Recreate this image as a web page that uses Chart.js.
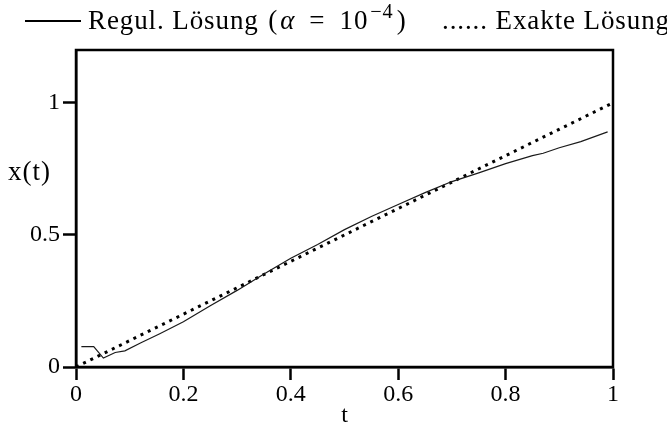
<!DOCTYPE html>
<html>
<head>
<meta charset="utf-8">
<script src="https://cdn.jsdelivr.net/npm/chart.js@4/dist/chart.umd.min.js"></script>
<style>
  html, body { margin: 0; padding: 0; background: #fff; }
  #wrap { position: relative; width: 667px; height: 432px; font-family: "Liberation Serif", serif; color: #000; }
  canvas { position: absolute; left: 0; top: 0; }
  .lbl { position: absolute; white-space: nowrap; line-height: 1; }
  .leg { font-size: 27px; letter-spacing: 0.9px; top: 7px; }
  .legline { display: inline-block; width: 56px; border-top: 2px solid #000; vertical-align: middle; margin-right: 7px; position: relative; top: -2px; }
  .op { padding: 0 14px; }
  .paren { padding: 0 2px; }
  sup { font-size: 0.75em; vertical-align: 0.55em; line-height: 0; margin-left: 2px; margin-right: 3px; }
</style>
</head>
<body>
<div id="wrap">
  <canvas id="chart" width="667" height="432"></canvas>
  <div class="lbl leg" style="left:25px;">
    <span class="legline"></span>Regul. Lösung <span class="paren">(</span><i>α</i><span class="op">=</span>10<sup>−4</sup>)
  </div>
  <div class="lbl leg" style="left:442px;">...... Exakte Lösung</div>
  <div class="lbl" style="left:8px; top:158px; font-size:27px; letter-spacing:1px;">x(t)</div>
</div>
<script>
// regularised solution
const tReg = [0.01, 0.033, 0.051, 0.073, 0.091, 0.12, 0.156, 0.2, 0.25, 0.30, 0.35, 0.40, 0.45, 0.50, 0.55, 0.60, 0.65, 0.70, 0.75, 0.80, 0.85, 0.87, 0.90, 0.94, 0.99];
const xReg = [0.077, 0.077, 0.034, 0.055, 0.061, 0.091, 0.126, 0.171, 0.232, 0.290, 0.352, 0.412, 0.464, 0.520, 0.570, 0.615, 0.660, 0.702, 0.735, 0.770, 0.800, 0.809, 0.830, 0.853, 0.890];

// exact solution x(t) = t
const tExact = [0, 1];
const xExact = [0, 1];

const xTicks = [0, 0.2, 0.4, 0.6, 0.8, 1];
const yTicks = [0, 0.5, 1];

const serif = "'Liberation Serif', serif";

// draws the closed frame round the plot
const framePlugin = {
    id: 'frame',
    afterDraw(chart) {
        const a = chart.chartArea;
        const ctx = chart.ctx;
        ctx.save();
        ctx.strokeStyle = '#000';
        ctx.lineWidth = 2.5;
        ctx.strokeRect(a.left, a.top, a.right - a.left, a.bottom - a.top);
        ctx.restore();
    }
};

const ctx = document.getElementById('chart').getContext('2d');

new Chart(ctx, {
    type: 'line',
    data: {
        datasets: [
            {
                label: 'Regul. Lösung',
                data: tReg.map((t, i) => ({ x: t, y: xReg[i] })),
                borderColor: '#1a1a1a',
                borderWidth: 1.2,
                pointRadius: 0,
                tension: 0
            },
            {
                label: 'Exakte Lösung',
                data: tExact.map((t, i) => ({ x: t, y: xExact[i] })),
                borderColor: '#000',
                borderWidth: 3,
                borderDash: [3, 5],
                borderCapStyle: 'butt',
                pointRadius: 0
            }
        ]
    },
    options: {
        responsive: false,
        animation: false,
        layout: { padding: { top: 50, right: 54, left: 0, bottom: 0 } },
        plugins: {
            legend: { display: false },
            tooltip: { enabled: false }
        },
        scales: {
            x: {
                type: 'linear',
                min: 0,
                max: 1,
                afterBuildTicks: s => { s.ticks = xTicks.map(v => ({ value: v })); },
                afterFit: s => { s.height = 65; },
                grid: { drawOnChartArea: false, tickLength: 13, tickColor: '#000', tickWidth: 2.5 },
                border: { display: true, color: '#000', width: 2.5 },
                ticks: { color: '#000', font: { family: serif, size: 24 }, padding: 0, maxRotation: 0, callback: v => String(v) },
                title: { display: true, text: 't', color: '#000', font: { family: serif, size: 24 }, padding: { top: 0, bottom: 2 } }
            },
            y: {
                type: 'linear',
                min: 0,
                max: 1.2,
                afterBuildTicks: s => { s.ticks = yTicks.map(v => ({ value: v })); },
                afterFit: s => { s.width = 76; },
                grid: { drawOnChartArea: false, tickLength: 13, tickColor: '#000', tickWidth: 2.5 },
                border: { display: true, color: '#000', width: 2.5 },
                ticks: { color: '#000', font: { family: serif, size: 24 }, padding: 3, callback: v => String(v) }
            }
        }
    },
    plugins: [framePlugin]
});
</script>
</body>
</html>
